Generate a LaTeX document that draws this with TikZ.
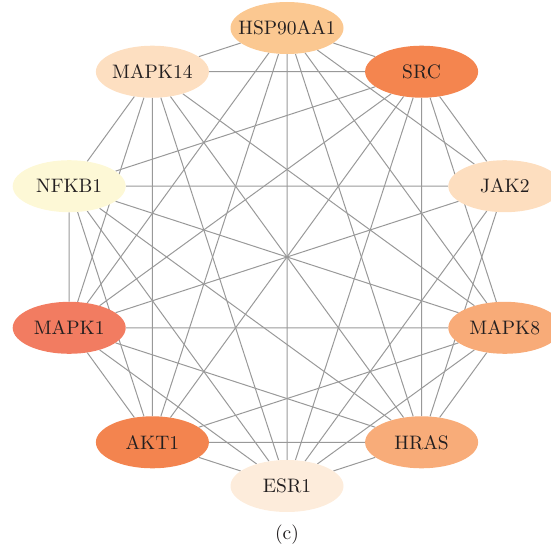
\documentclass[tikz,border=0pt]{standalone}
\usepackage{fontspec}
\newfontfamily\genefont{lmroman10-regular.otf}
\usetikzlibrary{shapes.geometric,backgrounds}

\definecolor{cHSP}{HTML}{FBC891}
\definecolor{cSRC}{HTML}{F4854F}
\definecolor{cJAK}{HTML}{FDDEBF}
\definecolor{cMAPKviii}{HTML}{F8AB78}
\definecolor{cHRAS}{HTML}{F8AC79}
\definecolor{cESR}{HTML}{FDECDB}
\definecolor{cAKT}{HTML}{F3844F}
\definecolor{cMAPKi}{HTML}{F27C61}
\definecolor{cNFKB}{HTML}{FDF8D6}
\definecolor{cMAPKxiv}{HTML}{FDDFC1}
\definecolor{edgegray}{HTML}{999999}
\definecolor{txt}{HTML}{231F20}

\tikzset{
  genetext/.style={text=txt,inner sep=0pt,font=\genefont\fontsize{19.5}{22}\selectfont},
  gene/.style={ellipse,minimum width=113pt,minimum height=52pt,inner sep=0pt},
  link/.style={draw=edgegray,line width=1pt}
}

\begin{document}
\begin{tikzpicture}[x=1pt,y=1pt]
\useasboundingbox (0,0) rectangle (551,550);
% genes on a circle of radius 229 round (287,293)
\node[gene,fill=cHSP,label={[genetext]center:HSP90AA1}] (hsp) at (287.0,522.0) {};
\node[gene,fill=cSRC,label={[genetext]center:SRC}] (src) at (421.6,478.3) {};
\node[gene,fill=cJAK,label={[genetext]center:JAK2}] (jak2) at (504.8,363.8) {};
\node[gene,fill=cMAPKviii,label={[genetext]center:MAPK8}] (mapk8) at (504.8,222.2) {};
\node[gene,fill=cHRAS,label={[genetext]center:HRAS}] (hras) at (421.6,107.7) {};
\node[gene,fill=cESR,label={[genetext]center:ESR1}] (esr1) at (287.0,64.0) {};
\node[gene,fill=cAKT,label={[genetext]center:AKT1}] (akt1) at (152.4,107.7) {};
\node[gene,fill=cMAPKi,label={[genetext]center:MAPK1}] (mapk1) at (69.2,222.2) {};
\node[gene,fill=cNFKB,label={[genetext]center:NFKB1}] (nfkb1) at (69.2,363.8) {};
\node[gene,fill=cMAPKxiv,label={[genetext]center:MAPK14}] (mapk14) at (152.4,478.3) {};
\node[genetext] (cap) at (287.0,15.0) {(c)};
% interactions
\begin{scope}[on background layer]
\draw[link] (hsp) -- (src) (hsp) -- (jak2) (hsp) -- (mapk8) (hsp) -- (hras)
  (hsp) -- (esr1) (hsp) -- (akt1) (hsp) -- (mapk1) (hsp) -- (mapk14);
\draw[link] (src) -- (jak2) (src) -- (mapk8) (src) -- (hras) (src) -- (esr1)
  (src) -- (akt1) (src) -- (mapk1) (src) -- (nfkb1) (src) -- (mapk14);
\draw[link] (jak2) -- (hras) (jak2) -- (esr1) (jak2) -- (mapk1) (jak2) -- (nfkb1);
\draw[link] (mapk8) -- (hras) (mapk8) -- (esr1) (mapk8) -- (akt1)
  (mapk8) -- (mapk1) (mapk8) -- (nfkb1) (mapk8) -- (mapk14);
\draw[link] (hras) -- (esr1) (hras) -- (akt1) (hras) -- (mapk1)
  (hras) -- (nfkb1) (hras) -- (mapk14);
\draw[link] (esr1) -- (akt1) (esr1) -- (mapk1) (esr1) -- (nfkb1) (esr1) -- (mapk14);
\draw[link] (akt1) -- (mapk1) (akt1) -- (nfkb1) (akt1) -- (mapk14);
\draw[link] (mapk1) -- (nfkb1) (mapk1) -- (mapk14);
\draw[link] (nfkb1) -- (mapk14);
\end{scope}
\end{tikzpicture}
\end{document}
